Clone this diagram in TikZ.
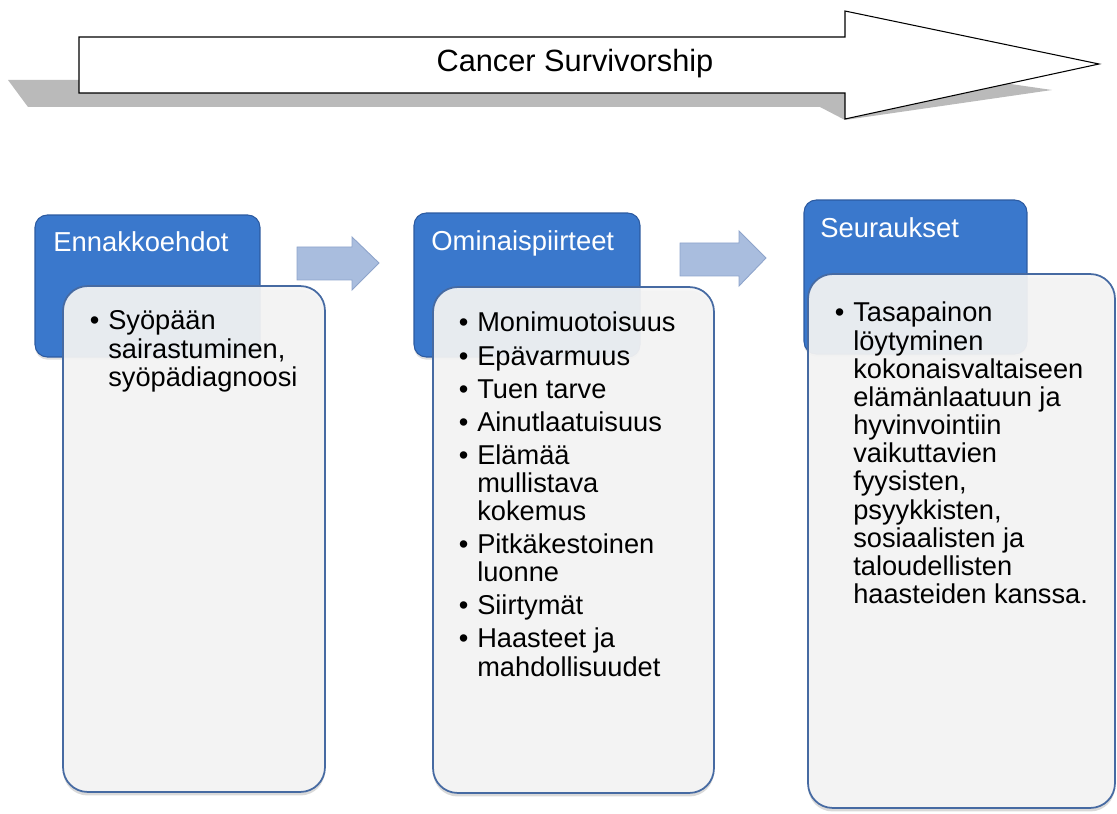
\documentclass[tikz,border=0pt]{standalone}
\usepackage{fontspec}
\setmainfont{Liberation Sans}
\usepackage{tikz}
\usetikzlibrary{shadows}

\definecolor{stageblue}{RGB}{58,120,204}
\definecolor{stageedge}{RGB}{44,90,160}
\definecolor{detailedge}{RGB}{70,106,162}
\definecolor{detailfill}{RGB}{245,245,245}
\definecolor{flowblue}{RGB}{169,189,222}
\definecolor{flowedge}{RGB}{142,164,203}

\newcommand{\itemfont}{\fontsize{15.5}{16}\selectfont}
\newcommand{\bul}{\textbullet}

\begin{document}
\begin{tikzpicture}[x=0.02cm, y=-0.02cm,
        stage/.style={draw=stageedge, line width=0.6pt, fill=stageblue, rounded corners=7pt, inner sep=0pt, drop shadow={shadow xshift=0pt, shadow yshift=-1.5pt, opacity=0.25}},
        stagetext/.style={anchor=base west, inner sep=0pt, text=white, font=\fontsize{15.6}{18}\selectfont},
        detail/.style={draw=detailedge, line width=1pt, fill=detailfill, fill opacity=0.92, rounded corners=14pt, inner sep=0pt, drop shadow={shadow xshift=0pt, shadow yshift=-2pt, opacity=0.3}},
        itemlist/.style={anchor=base west, inner sep=0pt, font=\itemfont},
        flowarrow/.style={draw=flowedge, line width=0.5pt, fill=flowblue},
        bigarrow/.style={draw=black, line width=0.6pt, fill=white},
        titletext/.style={anchor=base, inner sep=0pt, font=\fontsize{17.5}{20}\selectfont}
    ]
        \useasboundingbox (0,0) rectangle (1117,814);

        % timeline arrow
        \fill[black!27] (8,80) -- (28,107) -- (820,107) -- (845,120) -- (1052,90) -- (845,60) -- (845,80) -- cycle;
        \draw[bigarrow] (79,37) -- (845,37) -- (845,11) -- (1099,64) -- (845,119) -- (845,93) -- (79,93) -- cycle;
        \node[titletext] (survivorship) at (575,72) {Cancer Survivorship};

        % stage headers
        \node[stage, minimum width=4.5cm, minimum height=2.84cm] (head1) at (147.5,286) {};
        \node[stage, minimum width=4.52cm, minimum height=2.88cm] (head2) at (527,285) {};
        \node[stage, minimum width=4.46cm, minimum height=3.08cm] (head3) at (915.5,277) {};
        \node[stagetext] (head1text) at (53,252) {Ennakkoehdot};
        \node[stagetext] (head2text) at (431,251) {Ominaispiirteet};
        \node[stagetext] (head3text) at (820,238) {Seuraukset};

        % arrows between stages
        \draw[flowarrow] (297,247) -- (352,247) -- (352,237) -- (379,263) -- (352,290) -- (352,280) -- (297,280) -- cycle;
        \draw[flowarrow] (680,243) -- (739,243) -- (739,231) -- (766,258) -- (739,286) -- (739,276) -- (680,276) -- cycle;

        % content boxes
        \node[detail, minimum width=5.24cm, minimum height=10.12cm] (body1) at (194,539) {};
        \node[detail, minimum width=5.62cm, minimum height=10.12cm] (body2) at (573.5,540) {};
        \node[detail, minimum width=6.14cm, minimum height=10.68cm] (body3) at (961.5,541) {};

        \node[itemlist] (list1) at (89.5,330) {\begin{tabular}[t]{@{}p{10.5pt}@{}l@{}}
            \bul & Syöpään\\
                 & sairastuminen,\\
                 & syöpädiagnoosi
        \end{tabular}};
        \node[itemlist] (list2) at (458.5,332) {\begin{tabular}[t]{@{}p{10.5pt}@{}l@{}}
            \bul & Monimuotoisuus\\[2.8pt]
            \bul & Epävarmuus\\[2.8pt]
            \bul & Tuen tarve\\[2.8pt]
            \bul & Ainutlaatuisuus\\[2.8pt]
            \bul & Elämää\\
                 & mullistava\\
                 & kokemus\\[2.8pt]
            \bul & Pitkäkestoinen\\
                 & luonne\\[2.8pt]
            \bul & Siirtymät\\[2.8pt]
            \bul & Haasteet ja\\
                 & mahdollisuudet
        \end{tabular}};
        \node[itemlist] (list3) at (834.5,322) {\begin{tabular}[t]{@{}p{10.5pt}@{}l@{}}
            \bul & Tasapainon\\
                 & löytyminen\\
                 & kokonaisvaltaiseen\\
                 & elämänlaatuun ja\\
                 & hyvinvointiin\\
                 & vaikuttavien\\
                 & fyysisten,\\
                 & psyykkisten,\\
                 & sosiaalisten ja\\
                 & taloudellisten\\
                 & haasteiden kanssa.
        \end{tabular}};
    \end{tikzpicture}
\end{document}
